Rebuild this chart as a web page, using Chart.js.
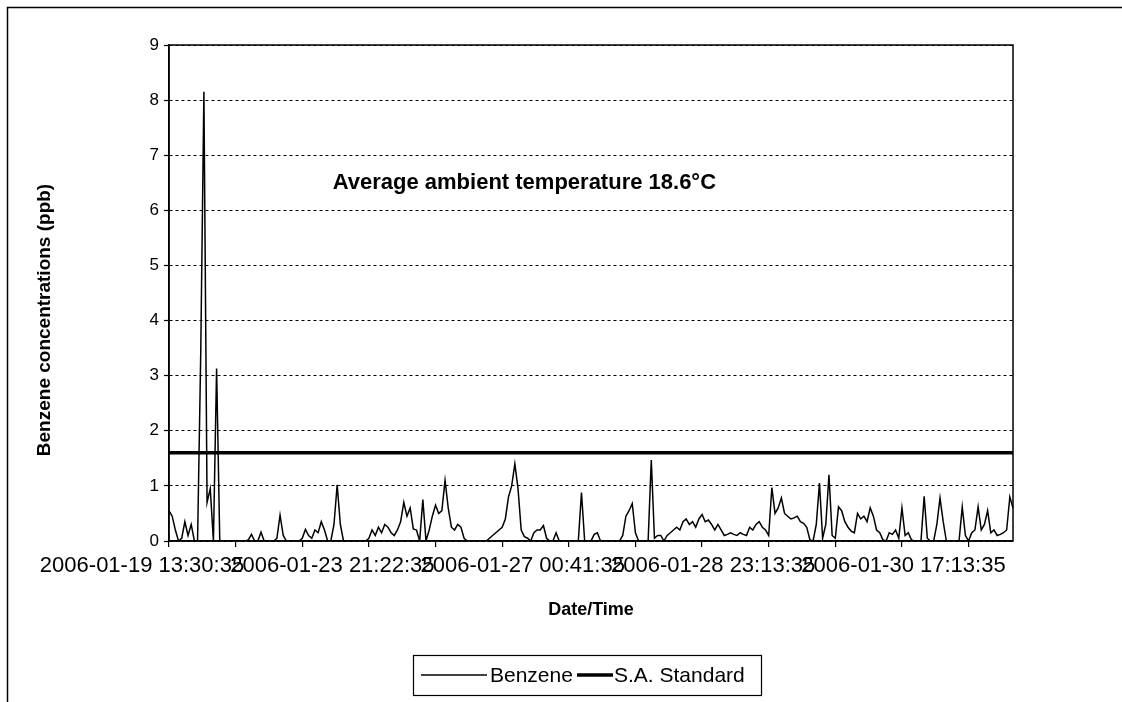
<!DOCTYPE html>
<html><head><meta charset="utf-8">
<script src="https://cdn.jsdelivr.net/npm/chart.js@4.4.1/dist/chart.umd.min.js"></script>
<style>html,body{margin:0;padding:0;background:#fff}#wrap{width:1122px;height:702px;position:relative}</style>
</head><body><div id="wrap"><canvas id="c"></canvas></div>
<script>
// Benzene concentrations (ppb), one value per category
const benzene = [
  0.55,0.45,0.2,0,0.05,0.35,0.1,0.3,0,0,
  3.4,8.15,0.7,0.95,0,3.13,0,0,0,0,
  0,0,0,0,0,0.02,0.12,0,0,0.16,
  0,0,0,0,0.05,0.47,0.1,0,0,0,
  0,0,0.05,0.21,0.1,0.05,0.2,0.15,0.35,0.2,
  0,0,0.3,1.02,0.3,0,0,0,0,0,
  0,0,0,0.05,0.2,0.1,0.25,0.15,0.3,0.25,
  0.15,0.1,0.2,0.35,0.7,0.45,0.6,0.22,0.2,0,
  0.75,0,0.2,0.45,0.65,0.5,0.55,1.1,0.6,0.25,
  0.2,0.3,0.25,0.05,0,0,0,0,0,0,
  0,0.05,0.1,0.15,0.2,0.25,0.4,0.8,1.0,1.4,
  0.95,0.2,0.08,0.05,0,0.15,0.2,0.2,0.28,0.05,
  0,0,0.15,0,0,0,0,0,0,0,
  0.88,0,0,0,0.12,0.15,0,0,0,0,
  0,0,0,0.1,0.45,0.55,0.68,0.15,0,0,
  0,0,1.47,0.05,0.1,0.1,0,0.1,0.15,0.2,
  0.25,0.2,0.35,0.4,0.3,0.35,0.25,0.4,0.48,0.35,
  0.38,0.3,0.2,0.3,0.2,0.1,0.12,0.15,0.12,0.1,
  0.15,0.12,0.1,0.25,0.2,0.3,0.35,0.25,0.2,0.1,
  0.97,0.5,0.6,0.78,0.5,0.45,0.4,0.42,0.45,0.35,
  0.32,0.25,0.02,0,0.3,1.05,0.05,0.3,1.2,0.1,
  0.05,0.62,0.55,0.35,0.25,0.18,0.15,0.5,0.4,0.45,
  0.35,0.6,0.45,0.2,0.15,0.02,0,0.15,0.12,0.2,
  0.05,0.6,0.1,0.15,0.02,0,0,0,0.81,0.05,
  0,0,0.3,0.78,0.35,0,0,0,0,0,
  0.62,0.1,0,0.15,0.2,0.62,0.2,0.3,0.55,0.15,
  0.2,0.1,0.12,0.15,0.2,0.8,0.6
];
// S.A. Standard (ppb) at the first and last category
const saStandard = [1.6, 1.6];
// category positions that carry a date/time label, and the labels
const xLabelIndex = [0, 60, 120, 180, 240];
const xLabelText = ['2006-01-19 13:30:35','2006-01-23 21:22:35','2006-01-27 00:41:35','2006-01-28 23:13:35','2006-01-30 17:13:35'];
const xTickEvery = 21;
const yMin = 0, yMax = 9, yStep = 1;
const seriesNames = ['Benzene', 'S.A. Standard'];
const yTitle = 'Benzene concentrations (ppb)';
const xTitle = 'Date/Time';
const noteText = 'Average ambient temperature 18.6\u00B0C';
const noteAt = [112, 6.5];

const categories = benzene.map((_, i) => {
  const k = xLabelIndex.indexOf(i);
  return k >= 0 ? xLabelText[k] : '';
});
const last = benzene.length - 1;
const saSeries = categories.map((_, i) => (i === 0 ? saStandard[0] : i === last ? saStandard[1] : null));

const FONT = "'Liberation Sans', Arial, Helvetica, sans-serif";
Chart.defaults.font.family = FONT;
Chart.defaults.color = '#000';

const decor = {
  id: 'decor',
  afterDraw(chart) {
    const ctx = chart.ctx, a = chart.chartArea;
    const xs = chart.scales.x, ys = chart.scales.y;
    ctx.save();
    ctx.strokeStyle = '#000'; ctx.fillStyle = '#000';
    // outer frame
    ctx.lineWidth = 1.5;
    ctx.beginPath(); ctx.moveTo(1122, 7.5); ctx.lineTo(7.5, 7.5); ctx.lineTo(7.5, 702); ctx.stroke();
    // plot area frame
    ctx.strokeRect(a.left, a.top, a.right - a.left, a.bottom - a.top);
    // y axis title
    ctx.save();
    ctx.translate(45, (a.top + a.bottom) / 2 + 27);
    ctx.rotate(-Math.PI / 2);
    ctx.font = "bold 19px " + FONT;
    ctx.textAlign = 'center'; ctx.textBaseline = 'middle';
    ctx.fillText(yTitle, 0, 0);
    ctx.restore();
    // note
    ctx.font = "bold 22px " + FONT;
    ctx.textAlign = 'center'; ctx.textBaseline = 'middle';
    ctx.fillText(noteText, xs.getPixelForValue(noteAt[0]), ys.getPixelForValue(noteAt[1]));
    // legend
    const lx = 413, ly = 655, lw = 348, lh = 40, cy = ly + lh / 2;
    ctx.lineWidth = 1.2;
    ctx.strokeRect(lx + 0.5, ly + 0.5, lw, lh);
    ctx.font = "21px " + FONT;
    ctx.textAlign = 'left';
    ctx.lineWidth = 1.5;
    ctx.beginPath(); ctx.moveTo(421, cy); ctx.lineTo(487, cy); ctx.stroke();
    ctx.fillText(seriesNames[0], 490, cy + 1);
    ctx.lineWidth = 3.5;
    ctx.beginPath(); ctx.moveTo(577, cy); ctx.lineTo(613, cy); ctx.stroke();
    ctx.fillText(seriesNames[1], 614, cy + 1);
    ctx.restore();
  }
};

new Chart(document.getElementById('c'), {
  type: 'line',
  data: {
    labels: categories,
    datasets: [
      { label: seriesNames[0], data: benzene, borderColor: '#000', borderWidth: 1.5, pointRadius: 0, tension: 0, fill: false },
      { label: seriesNames[1], data: saSeries, spanGaps: true, borderColor: '#000', borderWidth: 3.5, pointRadius: 0, tension: 0, fill: false }
    ]
  },
  options: {
    responsive: true, maintainAspectRatio: false, animation: false,
    layout: { padding: { left: 0, right: 109, top: 45, bottom: 0 } },
    plugins: { legend: { display: false }, tooltip: { enabled: false } },
    scales: {
      x: {
        type: 'category', offset: false,
        ticks: { autoSkip: false, maxRotation: 0, minRotation: 0, color: '#000', font: { size: 22 }, padding: 6, labelOffset: -27 },
        grid: { drawOnChartArea: false, drawTicks: true, tickLength: 6,
                color: c => (c.index % xTickEvery === 0 ? '#000' : 'rgba(0,0,0,0)'),
                lineWidth: c => (c.index % xTickEvery === 0 ? 1.2 : 0) },
        border: { display: true, color: '#000', width: 1.5 },
        title: { display: true, text: xTitle, color: '#000', font: { size: 18, weight: 'bold' }, padding: { top: 0, bottom: 81 } },
        afterFit(s) { s.height = 161; }
      },
      y: {
        min: yMin, max: yMax,
        ticks: { stepSize: yStep, color: '#000', font: { size: 17 }, padding: 5 },
        grid: { color: '#000', lineWidth: 1, tickLength: 5, tickColor: '#000', tickWidth: 1.2 },
        border: { display: true, color: '#000', width: 1.5, dash: [3, 3] },
        title: { display: false },
        afterFit(s) { s.width = 169; }
      }
    }
  },
  plugins: [decor]
});
</script></body></html>
